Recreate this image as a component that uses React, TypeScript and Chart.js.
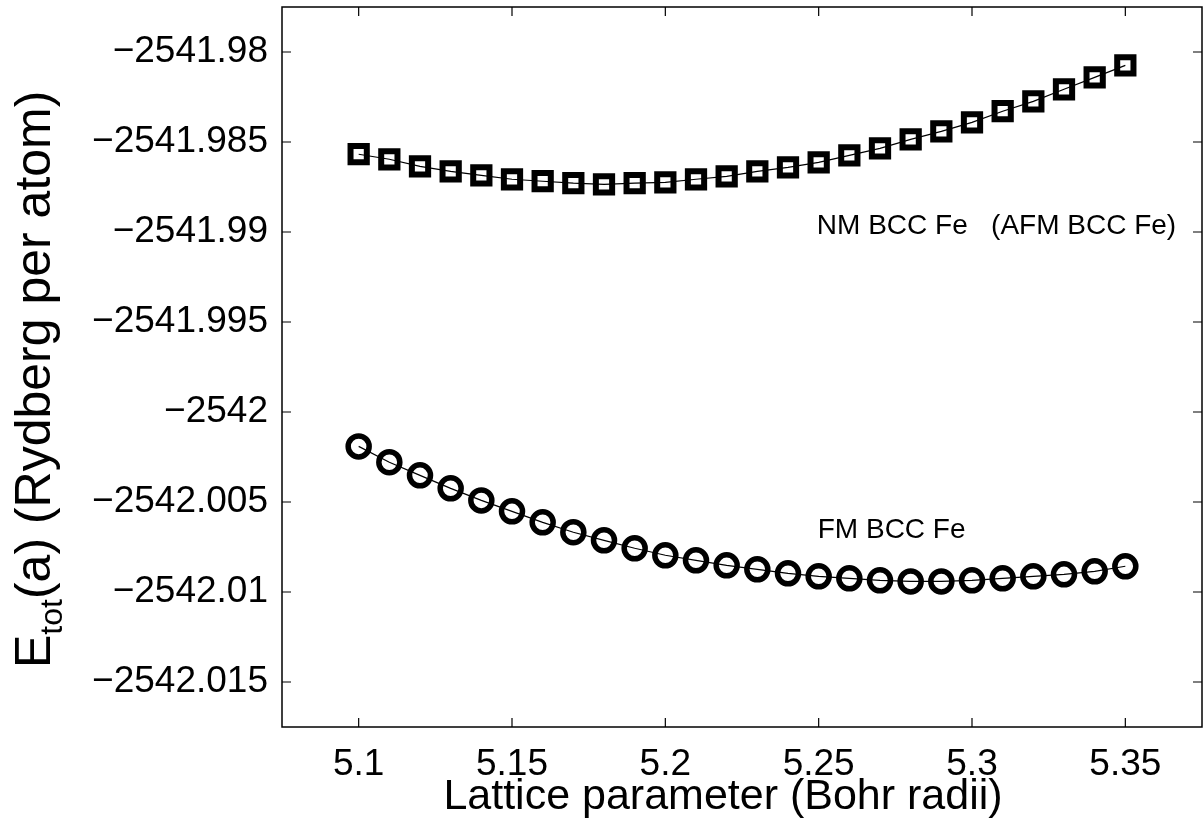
import React, { useEffect, useRef } from "react";
import { Chart, registerables } from "chart.js";

Chart.register(...registerables);

const latticeParams = [
  5.10, 5.11, 5.12, 5.13, 5.14, 5.15, 5.16, 5.17, 5.18, 5.19, 5.20, 5.21, 5.22,
  5.23, 5.24, 5.25, 5.26, 5.27, 5.28, 5.29, 5.30, 5.31, 5.32, 5.33, 5.34, 5.35,
];

const nmEnergies = [
  -2541.98568, -2541.98596, -2541.98635, -2541.98663, -2541.98685, -2541.98707,
  -2541.98718, -2541.98729, -2541.98735, -2541.98729, -2541.98724, -2541.98707,
  -2541.98691, -2541.98663, -2541.98641, -2541.98613, -2541.98574, -2541.98535,
  -2541.98485, -2541.98441, -2541.98391, -2541.98329, -2541.98274, -2541.98207,
  -2541.98141, -2541.98074,
];

const fmEnergies = [
  -2542.00191, -2542.00279, -2542.00352, -2542.00424, -2542.00491, -2542.00552,
  -2542.00613, -2542.00668, -2542.00713, -2542.00757, -2542.00796, -2542.00824,
  -2542.00852, -2542.00874, -2542.00896, -2542.00913, -2542.00924, -2542.00935,
  -2542.00941, -2542.00941, -2542.00935, -2542.00924, -2542.00913, -2542.00902,
  -2542.00885, -2542.00857,
];

const xTickValues = [5.1, 5.15, 5.2, 5.25, 5.3, 5.35];
const xTickLabels = ["5.1", "5.15", "5.2", "5.25", "5.3", "5.35"];
const yTickValues = [
  -2541.98, -2541.985, -2541.99, -2541.995, -2542, -2542.005, -2542.01, -2542.015,
];
const yTickLabels = [
  "\u22122541.98", "\u22122541.985", "\u22122541.99", "\u22122541.995",
  "\u22122542", "\u22122542.005", "\u22122542.01", "\u22122542.015",
];

const xRange = [5.075, 5.375];
const yRange = [-2542.0175, -2541.9775];

const annotations = [
  { x: 5.2494, y: -2541.98968, text: "NM BCC Fe   (AFM BCC Fe)" },
  { x: 5.2497, y: -2542.00657, text: "FM BCC Fe" },
];

const FONT = "'Liberation Sans', Arial, Helvetica, sans-serif";

const framePlugin = {
  id: "frameAndText",
  afterDraw(chart: any) {
    const { ctx, chartArea, scales } = chart;
    const { left, right, top, bottom } = chartArea;
    const xs = scales.x;
    const ys = scales.y;
    ctx.save();
    ctx.strokeStyle = "#000";
    ctx.lineWidth = 1.5;
    ctx.strokeRect(left, top, right - left, bottom - top);
    const tl = 9;
    ctx.beginPath();
    xTickValues.forEach((v) => {
      const px = xs.getPixelForValue(v);
      ctx.moveTo(px, bottom);
      ctx.lineTo(px, bottom - tl);
      ctx.moveTo(px, top);
      ctx.lineTo(px, top + tl);
    });
    yTickValues.forEach((v) => {
      const py = ys.getPixelForValue(v);
      ctx.moveTo(left, py);
      ctx.lineTo(left + tl, py);
      ctx.moveTo(right, py);
      ctx.lineTo(right - tl, py);
    });
    ctx.lineWidth = 1.2;
    ctx.stroke();

    // annotations
    ctx.fillStyle = "#000";
    ctx.font = `28px ${FONT}`;
    ctx.textAlign = "left";
    ctx.textBaseline = "middle";
    annotations.forEach((a) => {
      ctx.fillText(a.text, xs.getPixelForValue(a.x), ys.getPixelForValue(a.y));
    });

    // x axis title
    ctx.font = `43px ${FONT}`;
    ctx.textAlign = "center";
    ctx.textBaseline = "middle";
    ctx.fillText("Lattice parameter (Bohr radii)", 723, 797);

    // y axis title with subscript
    ctx.save();
    ctx.translate(36, 668);
    ctx.rotate(-Math.PI / 2);
    ctx.textAlign = "left";
    ctx.textBaseline = "middle";
    ctx.font = `50px ${FONT}`;
    ctx.fillText("E", 0, 0);
    let w = ctx.measureText("E").width;
    ctx.font = `32px ${FONT}`;
    ctx.fillText("tot", w, 17);
    w += ctx.measureText("tot").width;
    ctx.font = `50px ${FONT}`;
    ctx.fillText("(a) (Rydberg per atom)", w, 0);
    ctx.restore();

    ctx.restore();
  },
};

const zeroPad = (s: any) => {
  s.paddingTop = 0;
  s.paddingBottom = 0;
  s.paddingLeft = 0;
  s.paddingRight = 0;
};

export default function App() {
  const canvasRef = useRef<HTMLCanvasElement | null>(null);

  useEffect(() => {
    const canvas = canvasRef.current;
    if (!canvas) return;
    const chart = new Chart(canvas, {
      type: "line",
      data: {
        datasets: [
          {
            label: "NM BCC Fe",
            data: latticeParams.map((x, i) => ({ x, y: nmEnergies[i] })),
            borderColor: "#000",
            borderWidth: 1.2,
            pointStyle: "rect",
            pointRadius: 11.5,
            pointBorderWidth: 6,
            pointBorderColor: "#000",
            pointBackgroundColor: "rgba(0,0,0,0)",
            tension: 0,
          },
          {
            label: "FM BCC Fe",
            data: latticeParams.map((x, i) => ({ x, y: fmEnergies[i] })),
            borderColor: "#000",
            borderWidth: 1.2,
            pointStyle: "circle",
            pointRadius: 10.5,
            pointBorderWidth: 5.5,
            pointBorderColor: "#000",
            pointBackgroundColor: "rgba(0,0,0,0)",
            tension: 0,
          },
        ],
      },
      options: {
        responsive: false,
        animation: false,
        devicePixelRatio: 1,
        layout: { autoPadding: false, padding: { top: 7, right: 2, left: 0, bottom: 0 } },
        plugins: {
          legend: { display: false },
          tooltip: { enabled: false },
        },
        scales: {
          x: {
            type: "linear",
            min: xRange[0],
            max: xRange[1],
            grid: { display: false, drawTicks: false },
            border: { display: false },
            afterBuildTicks: (s: any) => {
              s.ticks = xTickValues.map((value) => ({ value }));
            },
            afterFit: (s: any) => {
              s.height = 99;
              zeroPad(s);
            },
            ticks: {
              color: "#000",
              font: { family: FONT, size: 37 },
              padding: 16,
              maxRotation: 0,
              autoSkip: false,
              callback: (v: any) => {
                const i = xTickValues.findIndex((t) => Math.abs(t - v) < 1e-9);
                return i >= 0 ? xTickLabels[i] : "";
              },
            },
          },
          y: {
            type: "linear",
            min: yRange[0],
            max: yRange[1],
            grid: { display: false, drawTicks: false },
            border: { display: false },
            afterBuildTicks: (s: any) => {
              s.ticks = yTickValues.map((value) => ({ value }));
            },
            afterFit: (s: any) => {
              s.width = 282;
              zeroPad(s);
            },
            ticks: {
              color: "#000",
              font: { family: FONT, size: 37 },
              padding: 14,
              autoSkip: false,
              callback: (v: any) => {
                const i = yTickValues.findIndex((t) => Math.abs(t - v) < 1e-9);
                return i >= 0 ? yTickLabels[i] : "";
              },
            },
          },
        },
      },
      plugins: [framePlugin],
    });
    return () => chart.destroy();
  }, []);

  return (
    <div style={{ position: "fixed", left: 0, top: 0, width: 1204, height: 826, background: "#fff" }}>
      <canvas ref={canvasRef} width={1204} height={826} />
    </div>
  );
}
